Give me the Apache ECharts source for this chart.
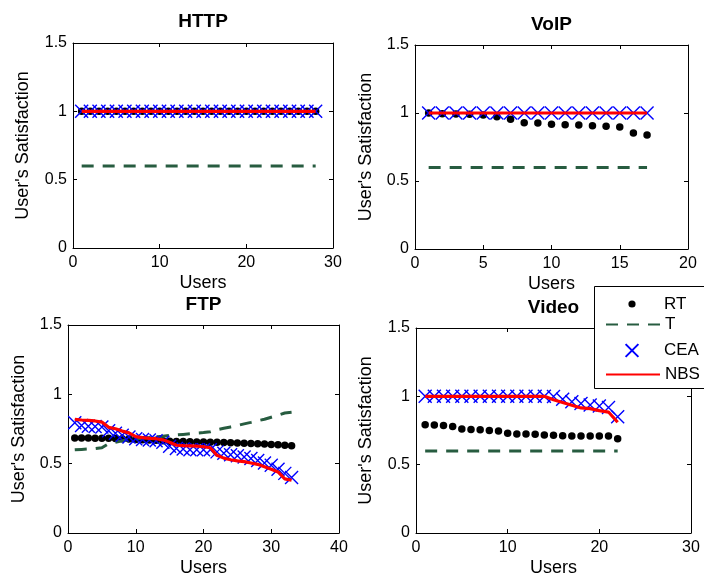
<!DOCTYPE html>
<html>
<head>
<meta charset="utf-8">
<script src="https://cdn.jsdelivr.net/npm/echarts@6/dist/echarts.min.js"></script>
<style>
  html, body { margin: 0; padding: 0; background: #ffffff; }
  #chart { width: 704px; height: 578px; }
</style>
</head>
<body>
<div id="chart"></div>
<script>
// Satisfaction per user for four traffic classes, four schemes each.
const panelTitles = ['HTTP', 'VoIP', 'FTP', 'Video'];
const seriesNames = ['RT', 'T', 'CEA', 'NBS'];
const yTicks = [0, 0.5, 1, 1.5];
const xMax = [30, 20, 40, 30];
const xStep = [10, 5, 10, 10];

// HTTP (28 users)
const httpRT  = [1,1,1,1,1,1,1,1,1,1,1,1,1,1,1,1,1,1,1,1,1,1,1,1,1,1,1,1];
const httpT   = [0.6,0.6,0.6,0.6,0.6,0.6,0.6,0.6,0.6,0.6,0.6,0.6,0.6,0.6,0.6,0.6,0.6,0.6,0.6,0.6,0.6,0.6,0.6,0.6,0.6,0.6,0.6,0.6];
const httpCEA = [1,1,1,1,1,1,1,1,1,1,1,1,1,1,1,1,1,1,1,1,1,1,1,1,1,1,1,1];
const httpNBS = [1,1,1,1,1,1,1,1,1,1,1,1,1,1,1,1,1,1,1,1,1,1,1,1,1,1,1,1];

// VoIP (17 users)
const voipRT  = [1.0,0.995,0.993,0.99,0.985,0.973,0.954,0.929,0.926,0.917,0.914,0.912,0.907,0.902,0.897,0.853,0.838];
const voipT   = [0.6,0.6,0.6,0.6,0.6,0.6,0.6,0.6,0.6,0.6,0.6,0.6,0.6,0.6,0.6,0.6,0.6];
const voipCEA = [1,1,1,1,1,1,1,1,1,1,1,1,1,1,1,1,1];
const voipNBS = [1,1,1,1,1,1,1,1,1,1,1,1,1,1,1,1,1];

// FTP (33 users)
const ftpRT  = [0.685,0.685,0.685,0.684,0.684,0.683,0.682,0.68,0.678,0.675,0.672,0.67,0.668,0.665,0.662,0.66,0.66,0.658,0.657,0.656,0.655,0.654,0.652,0.65,0.649,0.647,0.645,0.643,0.641,0.638,0.636,0.633,0.63];
const ftpT   = [0.6,0.603,0.606,0.609,0.615,0.645,0.655,0.665,0.672,0.678,0.684,0.689,0.694,0.698,0.703,0.707,0.711,0.715,0.72,0.724,0.73,0.745,0.755,0.765,0.775,0.787,0.798,0.81,0.82,0.835,0.85,0.865,0.87];
const ftpCEA = [0.795,0.775,0.77,0.768,0.765,0.738,0.72,0.705,0.692,0.68,0.675,0.67,0.665,0.655,0.625,0.61,0.605,0.6,0.6,0.6,0.6,0.585,0.575,0.565,0.557,0.548,0.538,0.522,0.505,0.488,0.46,0.43,0.4];
const ftpNBS = [0.82,0.815,0.812,0.808,0.8,0.762,0.752,0.735,0.722,0.695,0.688,0.683,0.68,0.672,0.655,0.633,0.63,0.628,0.626,0.622,0.615,0.56,0.54,0.528,0.52,0.515,0.505,0.495,0.478,0.46,0.44,0.39,0.38];

// Video (22 users)
const videoRT  = [0.792,0.79,0.787,0.78,0.761,0.758,0.756,0.75,0.746,0.73,0.725,0.725,0.722,0.717,0.715,0.712,0.71,0.71,0.71,0.71,0.71,0.69];
const videoT   = [0.6,0.6,0.6,0.6,0.6,0.6,0.6,0.6,0.6,0.6,0.6,0.6,0.6,0.6,0.6,0.6,0.6,0.6,0.6,0.6,0.6,0.6];
const videoCEA = [1,1,1,1,1,1,1,1,1,1,1,1,1,1,0.998,0.978,0.96,0.947,0.937,0.93,0.918,0.85];
const videoNBS = [1,1,1,1,1,1,1,1,1,1,1,1,1,1,0.975,0.955,0.935,0.915,0.91,0.895,0.885,0.81];

const panelData = [
  [httpRT, httpT, httpCEA, httpNBS],
  [voipRT, voipT, voipCEA, voipNBS],
  [ftpRT, ftpT, ftpCEA, ftpNBS],
  [videoRT, videoT, videoCEA, videoNBS]
];

// Plot-area boxes (pixels) and label placement
const boxes = [
  { left: 73,  top: 43,  width: 260, height: 205 },
  { left: 415, top: 45,  width: 273, height: 204 },
  { left: 68,  top: 325, width: 271, height: 210 },
  { left: 416, top: 328, width: 275, height: 207 }
];
const titleTops = [12, 15, 295, 298];
const yNameGaps = [41, 40, 40, 41];

const FONT = 'Liberation Sans, Arial, Helvetica, sans-serif';
const CROSS = 'path://M0,0L10,10M10,0L0,10';
const GREEN = '#275c40';
const CLEAR = 'rgba(0,0,0,0)';

const toPairs = arr => arr.map((v, i) => [i + 1, v]);

const grids = [], xAxes = [], yAxes = [], titles = [], series = [];
boxes.forEach((b, p) => {
  grids.push(Object.assign({ containLabel: false }, b));
  titles.push({
    text: panelTitles[p],
    left: b.left + b.width / 2,
    top: titleTops[p],
    textAlign: 'center',
    padding: 0,
    textStyle: { fontFamily: FONT, fontSize: 19, fontWeight: 'bold', color: '#000' }
  });
  const axisLine = { show: true, onZero: false, lineStyle: { color: '#000', width: 1 } };
  const tick = { show: true, inside: true, length: 4, lineStyle: { color: '#000' } };
  xAxes.push({
    type: 'value', gridIndex: p, position: 'bottom', min: 0, max: xMax[p], interval: xStep[p],
    name: 'Users', nameLocation: 'middle', nameGap: 26,
    nameTextStyle: { fontFamily: FONT, fontSize: 18, color: '#000' },
    axisLine, axisTick: tick, splitLine: { show: false },
    axisLabel: { fontFamily: FONT, fontSize: 16, color: '#000', margin: 7 }
  });
  xAxes.push({
    type: 'value', gridIndex: p, position: 'top', min: 0, max: xMax[p], interval: xStep[p],
    axisLine, axisTick: tick, splitLine: { show: false }, axisLabel: { show: false }
  });
  yAxes.push({
    type: 'value', gridIndex: p, position: 'left', min: yTicks[0], max: yTicks[yTicks.length - 1],
    interval: yTicks[1] - yTicks[0],
    name: "User's Satisfaction", nameLocation: 'middle', nameGap: yNameGaps[p],
    nameTextStyle: { fontFamily: FONT, fontSize: 18, color: '#000' },
    axisLine, axisTick: tick, splitLine: { show: false },
    axisLabel: { fontFamily: FONT, fontSize: 16, color: '#000', margin: 6 }
  });
  yAxes.push({
    type: 'value', gridIndex: p, position: 'right', min: yTicks[0], max: yTicks[yTicks.length - 1],
    interval: yTicks[1] - yTicks[0],
    axisLine, axisTick: tick, splitLine: { show: false }, axisLabel: { show: false }
  });

  const [rt, t, cea, nbs] = panelData[p];
  const ax = { xAxisIndex: 2 * p, yAxisIndex: 2 * p };
  // Marker-only series are line series with an invisible connecting line
  series.push(Object.assign({
    name: 'RT', type: 'line', data: toPairs(rt), symbol: 'circle', symbolSize: 7.5, showSymbol: true,
    lineStyle: { color: CLEAR, width: 0 }, itemStyle: { color: '#000', borderWidth: 0 }, z: 2
  }, ax));
  series.push(Object.assign({
    name: 'T', type: 'line', data: toPairs(t), symbol: 'none',
    lineStyle: { color: GREEN, width: 3, type: [12, 9] }, itemStyle: { color: GREEN }, z: 3
  }, ax));
  series.push(Object.assign({
    name: 'CEA', type: 'line', data: toPairs(cea), symbol: CROSS, symbolSize: 13, showSymbol: true,
    lineStyle: { color: CLEAR, width: 0 },
    itemStyle: { color: CLEAR, borderColor: '#0000ff', borderWidth: 1.4 }, z: 4
  }, ax));
  series.push(Object.assign({
    name: 'NBS', type: 'line', data: toPairs(nbs), symbol: 'none',
    lineStyle: { color: '#ff0000', width: 3.2 }, itemStyle: { color: '#ff0000' }, z: 5
  }, ax));
});

// Legend: one component per row so each icon can have its own size
const legendRows = [
  { name: 'RT',  center: 300, h: 9,  marker: true },
  { name: 'T',   center: 323, h: 14, marker: false },
  { name: 'CEA', center: 350, h: 16, marker: true },
  { name: 'NBS', center: 373, h: 14, marker: false }
];
const legends = legendRows.map(r => {
  const lg = {
    data: [r.name], orient: 'vertical', left: 605, top: r.center - r.h / 2,
    itemWidth: 54, itemHeight: r.h, padding: 0, selectedMode: false, z: 20,
    textStyle: { fontFamily: FONT, fontSize: 17, color: '#000' }
  };
  if (r.marker) lg.lineStyle = { color: CLEAR, width: 0 };
  else lg.itemStyle = { opacity: 0 };
  return lg;
});

const chart = echarts.init(document.getElementById('chart'), null, { renderer: 'canvas' });
chart.setOption({
  animation: false,
  backgroundColor: '#ffffff',
  title: titles,
  grid: grids,
  xAxis: xAxes,
  yAxis: yAxes,
  legend: legends,
  graphic: [{
    type: 'rect', left: 594, top: 286, z: 10,
    shape: { width: 130, height: 102 },
    style: { fill: '#ffffff', stroke: '#000000', lineWidth: 1 }
  }],
  series
});
</script>
</body>
</html>
